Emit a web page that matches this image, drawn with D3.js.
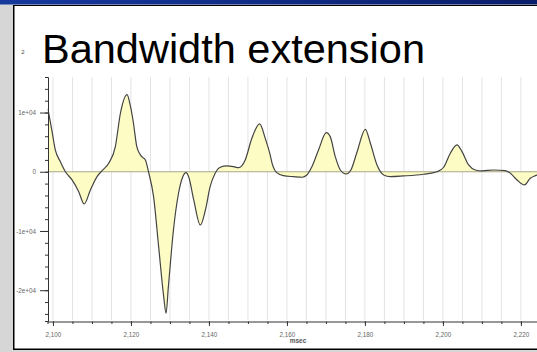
<!DOCTYPE html>
<html>
<head>
<meta charset="utf-8">
<script src="https://cdn.jsdelivr.net/npm/d3@7"></script>
<style>
  html, body { margin: 0; padding: 0; background: #d6d6d6; }
  svg { display: block; }
  text { font-family: "Liberation Sans", Arial, sans-serif; }
</style>
</head>
<body>
<svg id="slide" width="537" height="352"></svg>
<script>
// Waveform samples: time in msec, amplitude
const timeMs = [
  2098.7, 2099.7, 2100.6, 2101.9, 2103.2, 2104.9, 2106.6, 2108.0, 2109.6, 2111.3,
  2112.6, 2114.3, 2116.0, 2117.3, 2119.0, 2119.8, 2120.6, 2121.5, 2122.6, 2123.7,
  2124.5, 2125.8, 2127.1, 2128.4, 2129.0, 2129.6, 2130.9, 2132.2, 2133.3, 2134.1,
  2134.8, 2136.1, 2137.8, 2139.1, 2140.3, 2141.6, 2142.9, 2144.6, 2146.3, 2147.6,
  2149.3, 2151.0, 2153.0, 2154.5, 2155.7, 2156.2, 2157.4, 2159.1, 2161.7, 2163.9,
  2165.1, 2166.4, 2168.1, 2170.1, 2171.1, 2172.4, 2173.7, 2175.2, 2176.4, 2178.0,
  2180.1, 2181.4, 2183.1, 2184.8, 2186.5, 2189.9, 2195.0, 2198.5, 2200.2, 2201.9,
  2203.6, 2204.9, 2206.6, 2208.3, 2210.0, 2213.0, 2216.0, 2217.3, 2219.0, 2220.9,
  2222.4, 2223.7, 2225.0
];
const amplitude = [
  10600, 7060, 3680, 1700, 0, -1380, -3360, -5440, -3070, -830,
  190, 1430, 4240, 9880, 13020, 11280, 8400, 4240, 2670, 2000,
  0, -4200, -12650, -21090, -23900, -19400, -9830, -3630, -830, -150,
  -830, -4760, -8980, -6450, -2520, -250, 760, 980, 860, 690,
  1990, 5650, 8100, 5500, 2840, 1430, -150, -660, -830, -930,
  -540, 860, 3680, 6600, 5930, 2550, 300, -370, 300, 3390,
  7170, 4810, 1150, -540, -830, -710, -420, 0, 760, 3120,
  4530, 3390, 1150, 300, 140, 300, 190, -250, -1380, -2230,
  -1100, -660, -400
];

// Axis ticks
const xMajorTicks = [2100, 2120, 2140, 2160, 2180, 2200, 2220];
const xMinorTicks = d3.range(2100, 2226, 5);
const yMajorTicks = [-20000, -10000, 0, 10000];
const yMajorLabels = ["-2e+04", "-1e+04", "0", "1e+04"];
const yMinorTicks = d3.range(-24000, 16001, 2000);

const titleText = "Bandwidth extension";
const xAxisTitle = "msec";

const svg = d3.select("#slide");
const W = 537, H = 352;

// Slide frame: grey margin, blue header bar, white page
const defs = svg.append("defs");
const grad = defs.append("linearGradient").attr("id", "hdr").attr("x1", 0).attr("x2", 1);
grad.append("stop").attr("offset", 0).attr("stop-color", "#16399e");
grad.append("stop").attr("offset", 1).attr("stop-color", "#0a1d6a");

svg.append("rect").attr("width", W).attr("height", H).attr("fill", "#d6d6d6");
svg.append("rect").attr("x", 13).attr("y", 5).attr("width", W - 13).attr("height", 345).attr("fill", "#000");
svg.append("rect").attr("x", 14.5).attr("y", 6).attr("width", W - 14.5).attr("height", 342.5).attr("fill", "#fff");
svg.append("rect").attr("x", 0).attr("y", 0).attr("width", W).attr("height", 4.5).attr("fill", "url(#hdr)");

svg.append("text").attr("x", 23).attr("y", 54).attr("font-size", 6).attr("fill", "#444")
  .attr("text-anchor", "middle").text("2");

svg.append("text").attr("x", 42).attr("y", 63).attr("font-size", 41.5).attr("fill", "#000")
  .text(titleText);

// Chart scales
const x = d3.scaleLinear().domain([2098.6, 2225]).range([47.5, 540.4]);
const y = d3.scaleLinear().domain([-25200, 16000]).range([321, 77]);

const plotTop = y(16000), plotBottom = y(-25200);

// Vertical grid
svg.append("g").selectAll("line").data(xMinorTicks).join("line")
  .attr("x1", d => x(d)).attr("x2", d => x(d))
  .attr("y1", plotTop).attr("y2", plotBottom - 1)
  .attr("stroke", "#e3e3e3").attr("stroke-width", 1);

svg.append("clipPath").attr("id", "plotClip").append("rect")
  .attr("x", x(2098.6)).attr("y", plotTop).attr("width", 600).attr("height", plotBottom - plotTop);

const plot = svg.append("g").attr("clip-path", "url(#plotClip)");
const series = timeMs.map((t, i) => ({ t, v: amplitude[i] }));

const area = d3.area().x(d => x(d.t)).y0(y(0)).y1(d => y(d.v)).curve(d3.curveMonotoneX);
const line = d3.line().x(d => x(d.t)).y(d => y(d.v)).curve(d3.curveMonotoneX);

plot.append("path").datum(series).attr("d", area).attr("fill", "#fdfcc4");
plot.append("line").attr("x1", x(2098.6)).attr("x2", 560).attr("y1", y(0)).attr("y2", y(0))
  .attr("stroke", "#a9a98c").attr("stroke-width", 1);
plot.append("path").datum(series).attr("d", line).attr("fill", "none")
  .attr("stroke", "#444").attr("stroke-width", 1.2).attr("stroke-linejoin", "round");

// Axes
function styleAxis(g) {
  g.selectAll(".domain").attr("stroke", "#333");
  g.selectAll(".tick line").attr("stroke", "#333");
  g.selectAll(".tick text").attr("fill", "#666").attr("font-size", 6.3)
    .attr("font-family", "Liberation Sans, Arial, sans-serif");
}

const xMinor = svg.append("g").attr("transform", `translate(0,${plotBottom + 0.5})`)
  .call(d3.axisBottom(x).tickValues(xMinorTicks).tickSize(2.5).tickFormat(""));
xMinor.call(styleAxis);
const xMajor = svg.append("g").attr("transform", `translate(0,${plotBottom + 0.5})`)
  .call(d3.axisBottom(x).tickValues(xMajorTicks).tickSize(4.5).tickPadding(6.5).tickFormat(d3.format(",")));
xMajor.call(styleAxis);
xMajor.select(".domain").remove();

const yMinor = svg.append("g").attr("transform", `translate(${x(2098.6) + 0.5},0)`)
  .call(d3.axisLeft(y).tickValues(yMinorTicks).tickSize(3).tickFormat(""));
yMinor.call(styleAxis);
const yMajor = svg.append("g").attr("transform", `translate(${x(2098.6) + 0.5},0)`)
  .call(d3.axisLeft(y).tickValues(yMajorTicks).tickSize(8).tickPadding(4)
    .tickFormat((d, i) => yMajorLabels[i]));
yMajor.call(styleAxis);
yMajor.select(".domain").remove();

svg.append("text").attr("x", 298).attr("y", 343).attr("text-anchor", "middle")
  .attr("font-size", 6.5).attr("font-weight", "bold").attr("fill", "#555").text(xAxisTitle);
</script>
</body>
</html>
